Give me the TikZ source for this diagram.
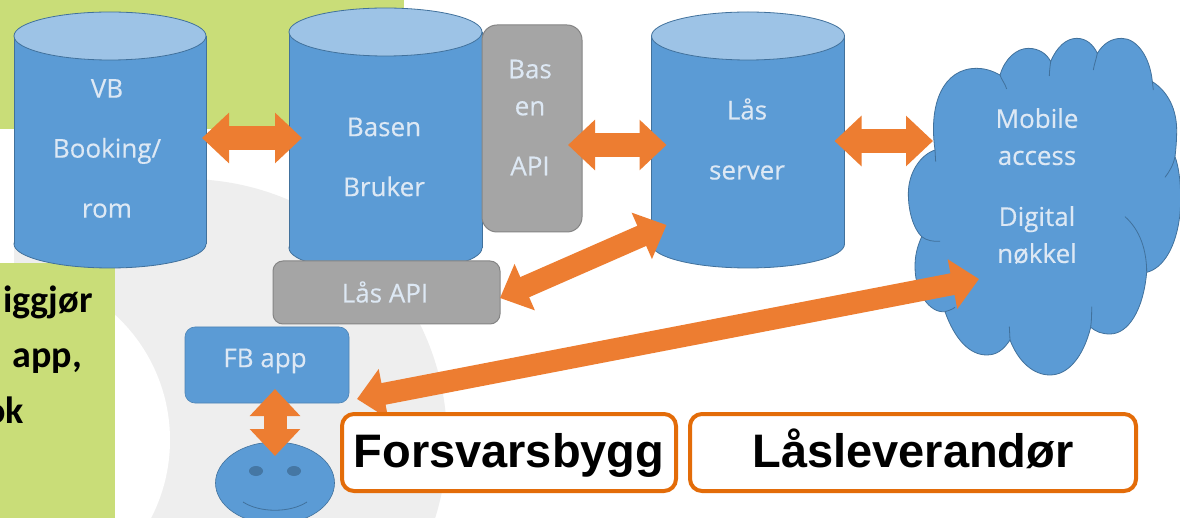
\documentclass[tikz,border=0pt]{standalone}
\usepackage{fontspec}
\setmainfont{Open Sans}
\newfontfamily\headfont{Liberation Sans}
\newfontfamily\notefont{Carlito}
\usetikzlibrary{shapes.geometric,arrows.meta}
\definecolor{bluefill}{HTML}{5B9BD5}
\definecolor{bluetop}{HTML}{9DC3E6}
\definecolor{blueline}{HTML}{41719C}
\definecolor{greyfill}{HTML}{A5A5A5}
\definecolor{greyline}{HTML}{858585}
\definecolor{arroworange}{HTML}{ED7D31}
\definecolor{boxorange}{HTML}{E36C09}
\definecolor{palegreen}{HTML}{C9DD78}
\definecolor{ringgrey}{HTML}{EEEEEE}
\definecolor{softwhite}{HTML}{DDE8F4}
\newcommand{\dbshape}[3]{%
  \path[fill=bluefill,draw=blueline,line width=0.8pt] ([yshift=#3pt]#1.south) ellipse[x radius=#2,y radius=#3];
  \fill[bluefill] ([yshift=-#3pt]#1.north west) rectangle ([yshift=#3pt]#1.south east);
  \draw[blueline,line width=0.8pt] ([yshift=-#3pt]#1.north west) -- ([yshift=#3pt]#1.south west)
    ([yshift=-#3pt]#1.north east) -- ([yshift=#3pt]#1.south east);
  \path[fill=bluetop,draw=blueline,line width=0.8pt] ([yshift=-#3pt]#1.north) ellipse[x radius=#2,y radius=#3];
}
\tikzset{
  x=1pt,y=-1pt,
  dbcyl/.style={rectangle,inner sep=0pt,outer sep=0pt},
  greybox/.style={rectangle,rounded corners=10pt,draw=greyline,line width=1pt,fill=greyfill,inner sep=0pt,outer sep=0pt},
  bluebox/.style={rectangle,rounded corners=10pt,draw=bluefill!85!black,line width=0.6pt,fill=bluefill,inner sep=0pt,outer sep=0pt},
  lbl/.style={text=softwhite,font=\addfontfeature{FakeBold=0.3}\fontsize{26}{37}\selectfont,align=center,inner sep=0pt},
  party/.style={rectangle,rounded corners=12pt,draw=boxorange,line width=4pt,fill=white,inner sep=0pt,outer sep=0pt,
    text=black,text height=29pt,text depth=0pt,font=\headfont\bfseries\fontsize{47}{50}\selectfont},
  twoway/.style={draw=arroworange,line width=#1,{Triangle[length=27pt,width=49pt]}-{Triangle[length=27pt,width=49pt]}},
  twoway/.default=24pt,
  note/.style={text=black,font=\notefont\bfseries\fontsize{38}{40}\selectfont,anchor=base east,inner sep=0pt}
}
\begin{document}
\begin{tikzpicture}
\clip (0,0) rectangle (1180,518);
\fill[white] (0,0) rectangle (1180,518);
% background
\fill[ringgrey] (186,440) circle[radius=261];
\fill[white] (0,440) circle[radius=170];
\fill[white] (0,129) rectangle (14,263);
\fill[palegreen] (0,0) rectangle (404,129);
\fill[palegreen] (0,263) rectangle (115,518);
\node[note] (n1) at (93,313) {iggjør};
\node[note] (n2) at (82,367) {app,};
\node[note] (n3) at (24,423) {ok};
% cylinders
\node[dbcyl,minimum height=256pt,minimum width=192pt] (vb) at (110,140) {};
\dbshape{vb}{96}{24}
\node[lbl] (vbt) at (107,148.5) {VB\\[23pt]Booking/\\[23pt]rom};
\node[dbcyl,minimum height=264pt,minimum width=193pt] (basen) at (385.5,140) {};
\dbshape{basen}{96.5}{24}
\node[lbl] (basent) at (384,157) {Basen\\[23pt]Bruker};
\node[dbcyl,minimum height=256pt,minimum width=193pt] (las) at (748,140) {};
\dbshape{las}{96.5}{24}
\node[lbl] (last) at (747,139) {Lås\\[23pt]server};
% grey boxes
\node[greybox,rounded corners=15pt,minimum width=100pt,minimum height=207pt] (basapi) at (532,128.5) {};
\node[lbl] (basapit) at (530,117.5) {Bas\\en\\[23pt]API};
\node[greybox,minimum width=227pt,minimum height=63pt] (lasapi) at (386.5,292.5) {};
\node[lbl] (lasapit) at (385,292) {Lås API};
\node[bluebox,minimum width=164pt,minimum height=76pt] (fb) at (267,365) {};
\node[lbl] (fbt) at (265,361) {FB app};
% cloud
\begin{scope}[shift={(880,20)},x=0.33333pt,y=-0.33333pt]
\path[fill=bluefill,draw=blueline,line width=0.8pt]
  (165,390) .. controls (145,250) and (190,145) .. (290,145)
  .. controls (325,145) and (350,160) .. (360,165)
  .. controls (375,115) and (410,85) .. (445,85)
  .. controls (475,85) and (500,100) .. (512,125)
  .. controls (530,80) and (560,55) .. (590,55)
  .. controls (620,55) and (640,75) .. (652,100)
  .. controls (670,70) and (695,55) .. (725,55)
  .. controls (770,55) and (810,110) .. (817,185)
  .. controls (865,215) and (890,270) .. (890,330)
  .. controls (890,360) and (888,385) .. (885,410)
  .. controls (900,450) and (905,520) .. (900,580)
  .. controls (890,680) and (850,745) .. (800,757)
  .. controls (790,870) and (745,942) .. (690,942)
  .. controls (665,942) and (648,935) .. (632,922)
  .. controls (610,1010) and (565,1065) .. (510,1065)
  .. controls (460,1065) and (415,1025) .. (390,960)
  .. controls (370,990) and (350,1005) .. (320,1005)
  .. controls (270,1005) and (225,960) .. (195,875)
  .. controls (150,880) and (105,820) .. (105,740)
  .. controls (105,705) and (112,680) .. (125,650)
  .. controls (100,625) and (85,575) .. (85,520)
  .. controls (85,460) and (120,405) .. (165,390) -- cycle;
\draw[blueline,line width=0.8pt]
  (360,165) .. controls (365,180) and (375,190) .. (380,207)
  (512,125) .. controls (510,140) and (508,155) .. (508,168)
  (652,100) .. controls (648,120) and (642,135) .. (640,150)
  (817,185) -- (820,210)
  (885,410) .. controls (880,435) and (868,455) .. (855,472)
  (735,590) .. controls (780,630) and (800,690) .. (800,757)
  (632,922) .. controls (635,900) and (635,880) .. (635,860)
  (390,960) -- (388,920)
  (125,650) .. controls (140,662) and (160,665) .. (180,664)
  (165,390) -- (167,425)
  (195,875) .. controls (200,873) and (215,870) .. (225,862);
\end{scope}
\node[minimum size=0pt,inner sep=0pt] (cloud) at (1037,186) {};
\node[lbl] (cloudt) at (1037,186) {Mobile\\access\\[24pt]Digital\\nøkkel};
% person
\node[ellipse,draw=blueline,line width=0.6pt,fill=bluefill,minimum width=119pt,minimum height=82pt,inner sep=0pt,outer sep=0pt] (face) at (275,483) {};
\fill[blueline!85!bluefill] (256,471) ellipse[x radius=7,y radius=5];
\fill[blueline!85!bluefill] (294,471) ellipse[x radius=7,y radius=5];
\draw[blueline,line width=0.8pt] (243,502) .. controls (260,513) and (290,513) .. (307,502);
% connectors
\draw[twoway] ([shift={(-4,-2)}]vb.east) -- ([shift={(13,-2)}]basen.west);
\draw[twoway] ([shift={(-14,16.5)}]basapi.east) -- ([shift={(15,5)}]las.west);
\draw[twoway] ([shift={(-10,1)}]las.east) -- ([shift={(-104,-45)}]cloud.center);
\draw[twoway=22pt] ([shift={(0,5.5)}]lasapi.east) -- ([shift={(15,85)}]las.west);
\draw[twoway=22pt] ([shift={(8,34)}]fb.east) -- ([shift={(-58,93)}]cloud.center);
\draw[twoway=23pt] ([shift={(8,-14)}]fb.south) -- ([shift={(0,14)}]face.north);
% party boxes
\node[party,minimum width=334pt,minimum height=77pt] (fbyg) at (509,452.5) {Forsvarsbygg};
\node[party,minimum width=446pt,minimum height=77pt] (lev) at (913,452.5) {Låsleverandør};
\end{tikzpicture}
\end{document}
